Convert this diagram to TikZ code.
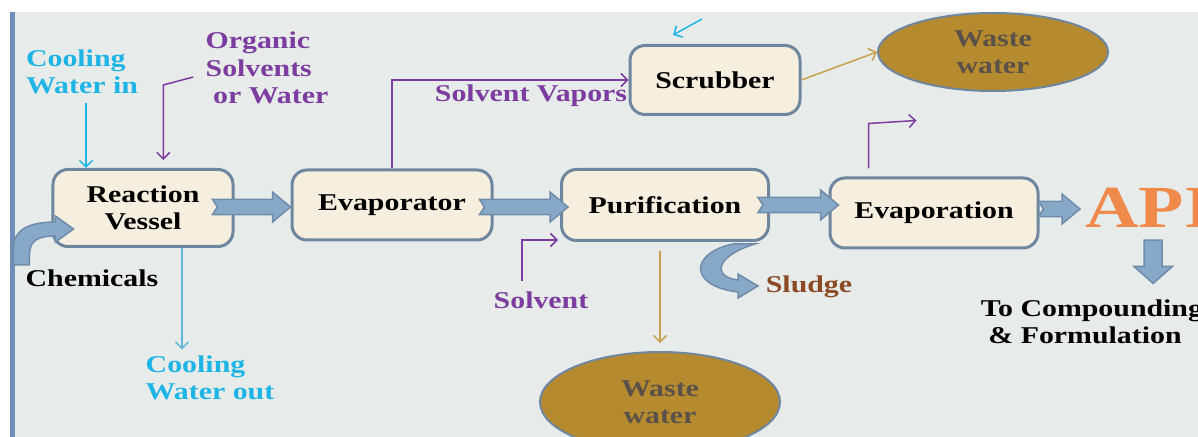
\documentclass[tikz,border=0pt]{standalone}
\usepackage{fontspec}
\setmainfont{Liberation Serif}[FakeStretch=1.24]
\usetikzlibrary{calc,arrows.meta,shapes.geometric}

\definecolor{bgcol}{HTML}{E7ECEA}
\definecolor{boxfill}{HTML}{F6EEDE}
\definecolor{boxline}{HTML}{6F879E}
\definecolor{arrfill}{HTML}{88A8C8}
\definecolor{arrline}{HTML}{6F8CAA}
\definecolor{wastefill}{HTML}{B68A2E}
\definecolor{wastetext}{HTML}{5A5248}
\definecolor{coolcol}{HTML}{1FB4E6}
\definecolor{coolout}{HTML}{64B4DA}
\definecolor{solvcol}{HTML}{7D3C9F}
\definecolor{goldcol}{HTML}{C9A04E}
\definecolor{sludgecol}{HTML}{8B4A24}
\definecolor{apicol}{HTML}{F08A4B}
\definecolor{barcol}{HTML}{6F8FBA}

\newcommand\flowfont{\fontsize{13.7}{15.6}\selectfont\bfseries}

\tikzset{pbox/.style={
  draw=boxline,
  line width=0.6mm,
  fill=boxfill,
  rounded corners=3mm,
  font=\flowfont,
  align=center}}
\tikzset{waste/.style={
  ellipse,
  draw=boxline,
  line width=0.4mm,
  fill=wastefill,
  text=wastetext,
  font=\flowfont,
  align=center,
  inner sep=0}}
\tikzset{fatarr/.style={
  draw=arrline,
  line width=0.3mm,
  fill=arrfill,
  line join=miter}}
\tikzset{feedln/.style={
  line width=0.3mm,
  -{Straight Barb[length=1.3mm,width=2.6mm]}}}
\tikzset{lbl/.style={
  font=\flowfont,
  inner sep=0,
  align=left}}

%% block arrow from #1 (tail) to #2 (tip)
\newcommand\fatarrow[2]{%
  \draw[fatarr] let \p1=#1, \p2=#2 in
    (\x1,\y1+4.3pt) -- (\x2-10.2pt,\y1+4.3pt) -- (\x2-10.2pt,\y1+8.5pt)
    -- (\x2,\y1) -- (\x2-10.2pt,\y1-8.5pt) -- (\x2-10.2pt,\y1-4.3pt)
    -- (\x1,\y1-4.3pt) -- (\x1+2.8pt,\y1) -- cycle;}

\begin{document}
\begin{tikzpicture}[x=0.2mm,y=-0.2mm]

  %%%% Canvas %%%%
  \useasboundingbox (0,0) rectangle (1198,437);
  \clip (0,0) rectangle (1198,437);
  \fill[bgcol] (10,12) rectangle (1198,437);
  \fill[barcol] (10,12) rectangle (15,437);

  %% Process boxes
  \node[pbox, minimum width=36mm, minimum height=15.4mm] (rv) at (143,208) {Reaction\\Vessel};
  \node[pbox, minimum width=40mm, minimum height=14mm] (ev) at (392,205) {Evaporator};
  \node[pbox, minimum width=41.4mm, minimum height=14.2mm] (pu) at (665,205) {Purification};
  \node[pbox, minimum width=41.6mm, minimum height=14mm] (eo) at (934,213) {Evaporation};
  \node[pbox, minimum width=34mm, minimum height=13.8mm] (sc) at (715,80) {Scrubber};

  %% Waste water
  \node[waste, minimum width=46mm, minimum height=15.6mm] (ww1) at (993,52) {Waste\\water};
  \node[waste, minimum width=48mm, minimum height=20mm] (ww2) at (660,402) {Waste\\water};

  %% Labels
  \node[lbl, text=coolcol] (cwin) at (82,72) {Cooling\\Water in};
  \node[lbl, text=solvcol] (org) at (267,68) {Organic\\Solvents\\\ or Water};
  \node[lbl] (chem) at (92,278) {Chemicals};
  \node[lbl, text=coolcol] (cwout) at (210,378) {Cooling\\Water out};
  \node[lbl, text=solvcol] (sv) at (531,96) {Solvent Vapors};
  \node[lbl, text=solvcol] (solv) at (541,300) {Solvent};
  \node[lbl, text=sludgecol] (sl) at (809,287) {Sludge};
  \node[lbl] (tcf) at (1092,322) {To Compounding\\\ \& Formulation};
  \node[lbl, text=apicol, font=\fontsize{34}{36}\selectfont\bfseries, anchor=west] (api) at (1085,208) {API};

  %% Feed and outlet lines
  \draw[feedln, coolcol] (cwin.south) ++(4,8) coordinate (cw1) -- (cw1 |- rv.north);
  \draw[feedln, coolout] (rv.south) ++(39,0) coordinate (cw2) -- ($(cw2 |- cwout.north)+(0,-6)$);
  \draw[feedln, solvcol] (org.west) ++(-12,9) -- ++(-30,8) coordinate (os1) -- ($(os1 |- rv.north)+(0,-8)$);
  \draw[feedln, solvcol] (ev.north) |- (sc.west);
  \draw[feedln, goldcol] (sc.east) -- (ww1.west);
  \draw[feedln, coolcol] (sc.north) ++(-13,-25) -- ++(-29,16);
  \draw[feedln, solvcol] (solv.north) ++(-19,-10) |- ($(pu.south west)+(-2,-2)$);
  \draw[feedln, goldcol] ($(pu.south)+(-5,9)$) -- ($(ww2.north)+(0,-8)$);
  \draw[feedln, solvcol] ($(eo.north west)+(40,-8)$) -- ++(0,-45) -- ++(48,-3);

  %% Main flow
  \fatarrow{($(rv.east)+(-22,-1)$)}{(ev.west)}
  \fatarrow{($(ev.east)+(-14,2)$)}{($(pu.west)+(8,0)$)}
  \fatarrow{($(pu.east)+(-12,0)$)}{($(eo.west)+(10,0)$)}
  \fatarrow{($(eo.east)+(-1,-4)$)}{($(api.west)+(-5,0)$)}
  \draw[fatarr] let \p1=($(api.south)+(4,12)$), \p2=($(tcf.north)+(0,-16)$) in
    (\x1-5.1pt,\y1) -- (\x1-5.1pt,\y2+9.7pt) -- (\x1-11pt,\y2+9.7pt) -- (\x1,\y2)
    -- (\x1+11pt,\y2+9.7pt) -- (\x1+5.1pt,\y2+9.7pt) -- (\x1+5.1pt,\y1) -- cycle;

  %% Chemicals in, sludge out
  \draw[fatarr, shift={(rv.west)}] (-38,57) -- (-38,40) .. controls (-38,22) and (-23,14) .. (4,14)
    -- (4,8) -- (22,21) -- (4,34) -- (4,28) .. controls (-13,28) and (-22,32) .. (-22,47)
    -- (-22,57) -- cycle;
  \draw[fatarr, shift={(pu.south)}] (68,2) .. controls (25,11) and (23,44) .. (73,50)
    -- (73,56) -- (93,44) -- (73,32) -- (73,38) .. controls (47,35) and (50,14) .. (90,2)
    -- cycle;

\end{tikzpicture}
\end{document}
